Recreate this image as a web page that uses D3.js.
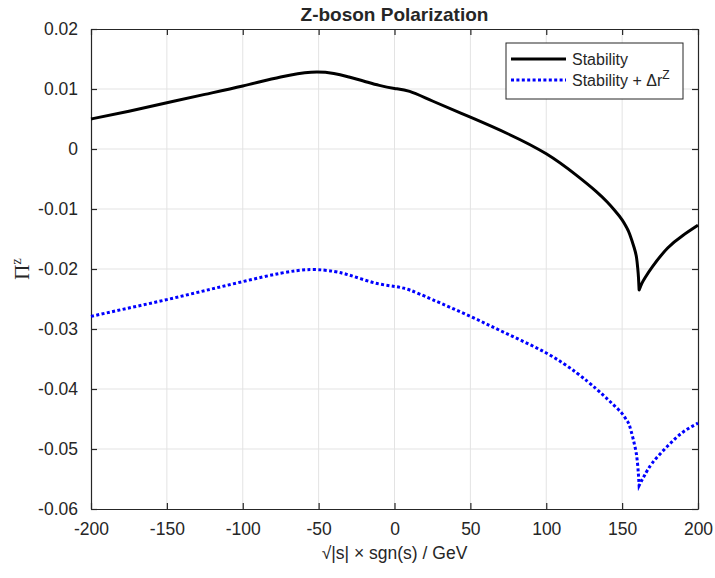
<!DOCTYPE html>
<html>
<head>
<meta charset="utf-8">
<script src="https://cdn.jsdelivr.net/npm/d3@7"></script>
<style>
  body { margin: 0; background: #fff; }
  svg text { font-family: "Liberation Sans", Arial, Helvetica, sans-serif; fill: #262626; }
</style>
</head>
<body>
<div id="chart"></div>
<script>
// data
const sValues = [-200, -175, -150, -125, -100, -75, -55, -40, -30, -20, -10, 0, 10, 25, 50, 75, 100, 120, 133, 140, 145, 150, 153, 155, 158, 159.5, 160.3, 160.8, 161.2, 163, 165, 170, 180, 190, 200];
const stability = [0.0050, 0.0063, 0.0077, 0.0091, 0.0105, 0.0120, 0.0128, 0.0126, 0.0120, 0.0113, 0.0106, 0.0101, 0.0096, 0.0080, 0.0053, 0.0025, -0.0008, -0.0044, -0.0071, -0.0088, -0.0102, -0.0118, -0.0131, -0.0142, -0.0165, -0.0181, -0.0199, -0.0215, -0.0235, -0.0224, -0.0215, -0.0196, -0.0165, -0.0144, -0.0127];
const stabilityDr = [-0.0279, -0.0265, -0.0251, -0.0236, -0.0221, -0.0207, -0.0201, -0.0204, -0.0210, -0.0218, -0.0225, -0.0229, -0.0235, -0.0251, -0.0279, -0.0309, -0.0340, -0.0373, -0.0400, -0.0416, -0.0428, -0.0441, -0.0452, -0.0462, -0.0491, -0.0510, -0.0528, -0.0545, -0.0561, -0.0552, -0.0543, -0.0523, -0.0495, -0.0472, -0.0457];
const xTicks = [-200, -150, -100, -50, 0, 50, 100, 150, 200];
const yTicks = [-0.06, -0.05, -0.04, -0.03, -0.02, -0.01, 0, 0.01, 0.02];
const cuspS = 161.2; // threshold, the curves have a cusp here

const width = 715, height = 578;
const margin = { left: 91, right: 17, top: 29, bottom: 69 };

const svg = d3.select("#chart").append("svg")
  .attr("width", width)
  .attr("height", height);

const x = d3.scaleLinear().domain([-200, 200]).range([margin.left, width - margin.right]);
const y = d3.scaleLinear().domain([-0.06, 0.02]).range([height - margin.bottom, margin.top]);

const axisColor = "#262626";

// grid
svg.append("g").selectAll("line")
  .data(xTicks.slice(1, -1))
  .enter().append("line")
  .attr("x1", d => x(d)).attr("x2", d => x(d))
  .attr("y1", y.range()[1]).attr("y2", y.range()[0])
  .attr("stroke", "#e3e3e3").attr("stroke-width", 1);
svg.append("g").selectAll("line")
  .data(yTicks.slice(1, -1))
  .enter().append("line")
  .attr("y1", d => y(d)).attr("y2", d => y(d))
  .attr("x1", x.range()[0]).attr("x2", x.range()[1])
  .attr("stroke", "#e3e3e3").attr("stroke-width", 1);

// axes (ticks pointing inward, box on all sides)
const fmtX = d => String(d);
const fmtY = d => d === 0 ? "0" : d.toFixed(2);
const xAxis = svg.append("g")
  .attr("transform", `translate(0,${y.range()[0]})`)
  .call(d3.axisBottom(x).tickValues(xTicks).tickFormat(fmtX).tickSizeInner(-6).tickSizeOuter(0).tickPadding(14));
const yAxis = svg.append("g")
  .attr("transform", `translate(${x.range()[0]},0)`)
  .call(d3.axisLeft(y).tickValues(yTicks).tickFormat(fmtY).tickSizeInner(-6).tickSizeOuter(0).tickPadding(13));
const xTop = svg.append("g")
  .attr("transform", `translate(0,${y.range()[1]})`)
  .call(d3.axisTop(x).tickValues(xTicks).tickSizeInner(-6).tickSizeOuter(0).tickFormat(""));
const yRight = svg.append("g")
  .attr("transform", `translate(${x.range()[1]},0)`)
  .call(d3.axisRight(y).tickValues(yTicks).tickSizeInner(-6).tickSizeOuter(0).tickFormat(""));

[xAxis, yAxis, xTop, yRight].forEach(g => {
  g.select(".domain").attr("stroke", axisColor).attr("stroke-width", 1.2);
  g.selectAll(".tick line").attr("stroke", axisColor).attr("stroke-width", 1.2);
  g.selectAll(".tick text")
    .attr("fill", axisColor)
    .style("font-size", "17.5px")
    .style("font-family", '"Liberation Sans", Arial, sans-serif');
});

// curves: smooth spline on each side of the cusp
const line = d3.line()
  .x(d => x(d[0]))
  .y(d => y(d[1]))
  .curve(d3.curveNatural);

function curvePath(vals) {
  const pts = sValues.map((s, i) => [s, vals[i]]);
  const left = pts.filter(p => p[0] <= cuspS);
  const right = pts.filter(p => p[0] >= cuspS);
  return line(left) + line(right).replace(/^M/, "L");
}

svg.append("path")
  .attr("fill", "none")
  .attr("stroke", "#000")
  .attr("stroke-width", 3)
  .attr("stroke-linejoin", "round")
  .attr("d", curvePath(stability));

svg.append("path")
  .attr("fill", "none")
  .attr("stroke", "#0000ff")
  .attr("stroke-width", 3)
  .attr("stroke-dasharray", "3,2.4")
  .attr("d", curvePath(stabilityDr));

// title
svg.append("text")
  .attr("x", (x.range()[0] + x.range()[1]) / 2)
  .attr("y", 21)
  .attr("text-anchor", "middle")
  .style("font-size", "19px")
  .style("font-weight", "bold")
  .attr("fill", "#000")
  .text("Z-boson Polarization");

// x label
svg.append("text")
  .attr("x", (x.range()[0] + x.range()[1]) / 2)
  .attr("y", 559)
  .attr("text-anchor", "middle")
  .style("font-size", "17.5px")
  .text("√|s|  ×  sgn(s) / GeV");

// y label
const yl = svg.append("text")
  .attr("transform", `translate(29,${(y.range()[0] + y.range()[1]) / 2}) rotate(-90)`)
  .attr("text-anchor", "middle")
  .style("font-family", '"Liberation Serif", "Times New Roman", serif')
  .style("font-size", "21px");
yl.append("tspan").text("Π");
yl.append("tspan").attr("dy", -8).style("font-size", "14px").text("z");

// legend
const legend = svg.append("g").attr("transform", "translate(506,43)");
legend.append("rect")
  .attr("width", 177).attr("height", 56)
  .attr("fill", "#fff").attr("stroke", axisColor).attr("stroke-width", 1);
const items = [
  { label: "Stability", color: "#000", dash: null },
  { label: "Stability + Δr", sup: "Z", color: "#0000ff", dash: "3,2.4" }
];
items.forEach((it, i) => {
  const yy = 16 + i * 21;
  legend.append("line")
    .attr("x1", 5).attr("x2", 60)
    .attr("y1", yy).attr("y2", yy)
    .attr("stroke", it.color).attr("stroke-width", 3)
    .attr("stroke-dasharray", it.dash);
  const t = legend.append("text")
    .attr("x", 66).attr("y", yy + 5.5)
    .style("font-size", "16px")
    .attr("fill", "#000")
    .text(it.label);
  if (it.sup) {
    t.append("tspan").attr("dy", -7).style("font-size", "12px").text(it.sup);
  }
});
</script>
</body>
</html>
